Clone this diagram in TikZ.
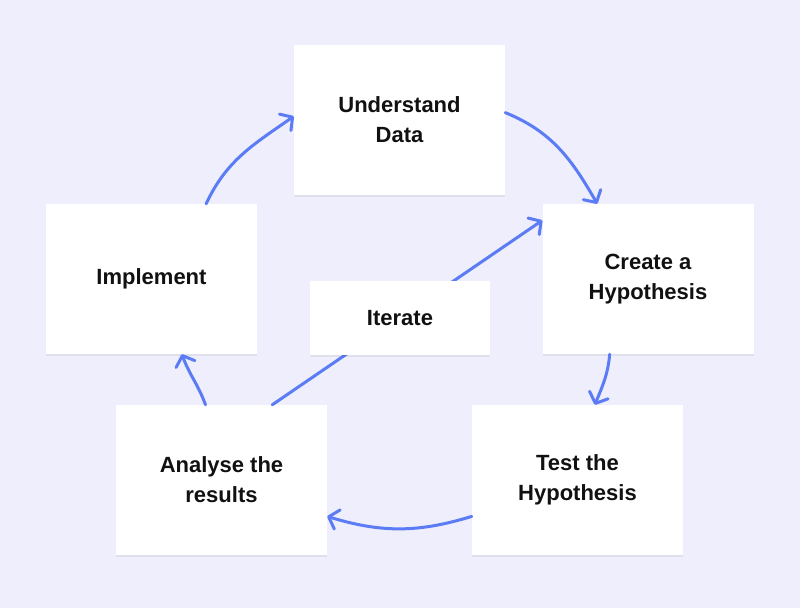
\documentclass[tikz,border=0pt]{standalone}
\usepackage{fontspec}
\setmainfont{Liberation Sans}
\usepackage{xcolor}
\usetikzlibrary{arrows.meta,shadows}
\definecolor{bgcol}{RGB}{238,238,252}
\definecolor{arrowcol}{RGB}{92,124,246}
\definecolor{textcol}{RGB}{17,17,17}

\begin{document}
\begin{tikzpicture}[line join=round,
    stagebox/.style={fill=white, minimum width=211bp, minimum height=150bp,
      align=center, font=\fontsize{22bp}{30bp}\selectfont\bfseries, text=textcol,
      drop shadow={shadow xshift=0bp, shadow yshift=-2bp, opacity=0.06, fill=black}},
    flow/.style={draw=arrowcol, line width=3bp, line cap=round,
      -{Straight Barb[length=9bp, width=20bp, round]}}]
  % Background
  \fill[bgcol] (0bp,0bp) rectangle (800bp,608bp);
  \useasboundingbox (0bp,0bp) rectangle (800bp,608bp);
  % Node: understand
  \node[stagebox] (understand) at (399.5bp,488bp) {Understand\\Data};
  % Node: create
  \node[stagebox] (create) at (648bp,329bp) {Create a\\Hypothesis};
  % Node: test
  \node[stagebox] (test) at (577.5bp,128bp) {Test the\\Hypothesis};
  % Node: analyse
  \node[stagebox] (analyse) at (221.5bp,128bp) {Analyse the\\results};
  % Node: implement
  \node[stagebox] (implement) at (151.5bp,329bp) {Implement};
  % Edge: understand -> create
  \draw[flow] (understand.4) to[out=-22, in=120] (create.124);
  % Edge: create -> test
  \draw[flow] (create.243) to[out=-95, in=68] (test.77);
  % Edge: test -> analyse
  \draw[flow] (test.199) to[out=-163, in=-17] (analyse.341);
  % Edge: analyse -> implement
  \draw[flow] (analyse.102) to[out=110, in=-70] (implement.292);
  % Edge: implement -> understand
  \draw[flow] (implement.54) to[out=65, in=-145] (understand.178);
  % Edge: analyse -> create (iterate)
  \draw[flow] (analyse.56) -- (create.151);
  % Node: iterate
  \node[stagebox, minimum width=180bp, minimum height=74bp] (iterate) at (400bp,290bp) {Iterate};
\end{tikzpicture}
\end{document}
